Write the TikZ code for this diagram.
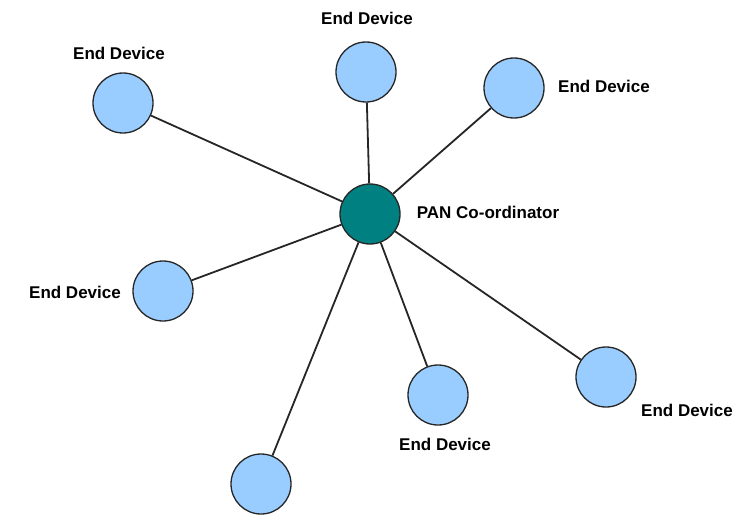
\documentclass[tikz,border=0pt]{standalone}
\usepackage{fontspec}
\setmainfont{Liberation Sans}
\begin{document}
\begin{tikzpicture}[x=1pt,y=-1pt,
  dev/.style={circle,draw=black!85,line width=1.3pt,fill=devblue,minimum size=60pt,inner sep=0pt},
  hub/.style={circle,draw=black!85,line width=1.3pt,fill=hubteal,minimum size=60pt,inner sep=0pt},
  lbl/.style={font=\fontsize{17}{20}\selectfont\bfseries,inner sep=0pt},
  link/.style={line width=1.8pt,black!85}]
\definecolor{devblue}{RGB}{153,204,255}
\definecolor{hubteal}{RGB}{0,128,128}
\useasboundingbox (0,0) rectangle (752,516);
\node[hub] (pan) at (370,214) {};
\node[dev] (d1) at (123,103) {};
\node[dev] (d2) at (366,72) {};
\node[dev] (d3) at (514,88) {};
\node[dev] (d4) at (163,291) {};
\node[dev] (d5) at (438,395) {};
\node[dev] (d6) at (606,377) {};
\node[dev] (d7) at (261,484) {};
\foreach \d in {d1,d2,d3,d4,d5,d6,d7} \draw[link] (pan) -- (\d);
\node[lbl] (l1) at (119,53) {End Device};
\node[lbl] (l2) at (367,18) {End Device};
\node[lbl] (l3) at (604,86) {End Device};
\node[lbl] (l4) at (75,292) {End Device};
\node[lbl] (l5) at (445,444) {End Device};
\node[lbl] (l6) at (687,410) {End Device};
\node[lbl] (lp) at (488,212) {PAN Co-ordinator};
\end{tikzpicture}
\end{document}
